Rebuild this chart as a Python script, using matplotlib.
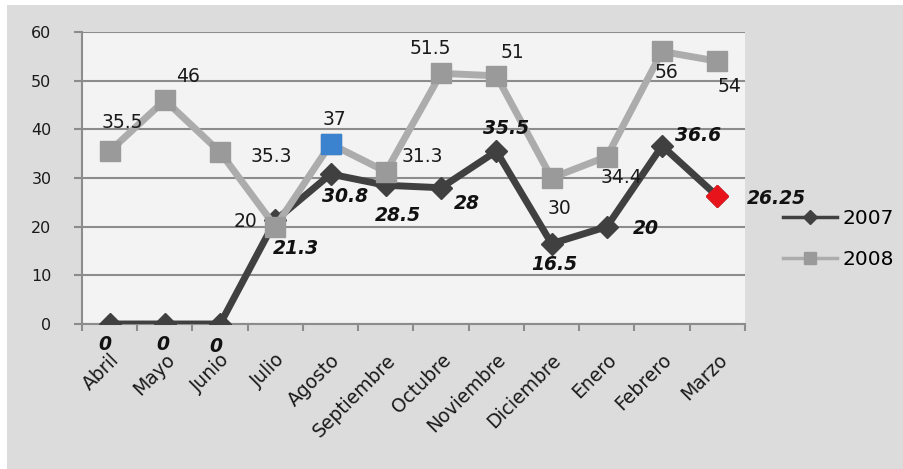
import numpy as np
import matplotlib.pyplot as plt
from matplotlib.lines import Line2D
from matplotlib.patches import Rectangle

# Data
months = ["Abril", "Mayo", "Junio", "Julio", "Agosto", "Septiembre",
          "Octubre", "Noviembre", "Diciembre", "Enero", "Febrero", "Marzo"]
v2007 = [0, 0, 0, 21.3, 30.8, 28.5, 28, 35.5, 16.5, 20, 36.6, 26.25]
v2008 = [35.5, 46, 35.3, 20, 37, 31.3, 51.5, 51, 30, 34.4, 56, 54]
lab2007 = ["0", "0", "0", "21.3", "30.8", "28.5", "28", "35.5", "16.5", "20", "36.6", "26.25"]
lab2008 = ["35.5", "46", "35.3", "20", "37", "31.3", "51.5", "51", "30", "34.4", "56", "54"]

# label offsets (pixels)
off2007 = [(-5, -21), (-2, -20), (-4, -23), (21, -28), (14, -22), (12, -30),
           (26, -16), (10, 23), (3, -21), (39, -2), (36, 10), (59, -2)]
off2008 = [(13, 29), (23, 24), (51, -4), (-30, 5), (4, 24), (36, 15),
           (-11, 25), (16, 23), (8, -30), (15, -21), (4, -21), (12, -25)]

c07 = "#404040"
c08 = "#acacac"
m08 = "#9a9a9a"
bg_out = "#dcdcdc"
bg_in = "#f3f3f3"

fig = plt.figure(figsize=(9.04, 4.69), dpi=100, facecolor="white")
fig.patches.append(Rectangle((7 / 904, 0), 1, 1 - 5 / 469, transform=fig.transFigure,
                             facecolor=bg_out, edgecolor="none", zorder=-10))
ax = fig.add_axes([82 / 904, 1 - 324 / 469, (745 - 82) / 904, (324 - 32) / 469])
ax.set_facecolor(bg_in)

x = np.arange(len(months))
ax.plot(x, v2007, color=c07, lw=5, marker="D", markersize=11,
        markerfacecolor=c07, markeredgecolor=c07, zorder=3)
ax.plot(x[-1], v2007[-1], linestyle="none", marker="D", markersize=11,
        markerfacecolor="#e8141c", markeredgecolor="#e8141c", zorder=5)
ax.plot(x, v2008, color=c08, lw=5, marker="s", markersize=15,
        markerfacecolor=m08, markeredgecolor=m08, zorder=4)
ax.plot(x[4], v2008[4], linestyle="none", marker="s", markersize=15,
        markerfacecolor="#3b82cf", markeredgecolor="#3b82cf", zorder=6)

for i in range(len(months)):
    ax.annotate(lab2008[i], (x[i], v2008[i]), xytext=off2008[i], textcoords="offset pixels",
                ha="center", va="center", fontsize=13.5, color="#1a1a1a", zorder=7)
    ax.annotate(lab2007[i], (x[i], v2007[i]), xytext=off2007[i], textcoords="offset pixels",
                ha="center", va="center", fontsize=13.5, color="#111111",
                fontweight="bold", fontstyle="italic", zorder=7, annotation_clip=False)

ax.set_xlim(-0.5, len(months) - 0.5)
ax.set_ylim(0, 60)
ax.set_yticks(np.arange(0, 61, 10))
ax.yaxis.grid(True, color="#8c8c8c", lw=1.5)
ax.set_axisbelow(True)
ax.set_xticks(x)
ax.set_xticklabels(months, rotation=45, ha="right", rotation_mode="anchor", fontsize=13.5)
ax.set_xticks(np.arange(-0.5, len(months), 1), minor=True)
ax.tick_params(axis="x", which="major", length=0, pad=19, colors="#1a1a1a")
ax.tick_params(axis="x", which="minor", length=5, width=1.5, color="#8c8c8c")
ax.tick_params(axis="y", length=6, width=1.5, color="#8c8c8c", labelsize=11.5,
               labelcolor="#1a1a1a", pad=16)
for s in ["top", "right"]:
    ax.spines[s].set_visible(False)
for s in ["left", "bottom"]:
    ax.spines[s].set_color("#8c8c8c")
    ax.spines[s].set_linewidth(1.5)

handles = [
    Line2D([], [], color=c07, lw=2.5, marker="D", markersize=7, markerfacecolor=c07, markeredgecolor=c07),
    Line2D([], [], color=c08, lw=2.5, marker="s", markersize=8, markerfacecolor=m08, markeredgecolor=m08),
]
fig.legend(handles, ["2007", "2008"], loc="center left", bbox_to_anchor=(783 / 904, 1 - 239 / 469),
           frameon=False, fontsize=14.5, handlelength=2.7, labelspacing=1.1, handletextpad=0.25,
           borderpad=0, borderaxespad=0)

fig.savefig("out.png", dpi=100, facecolor=fig.get_facecolor())
